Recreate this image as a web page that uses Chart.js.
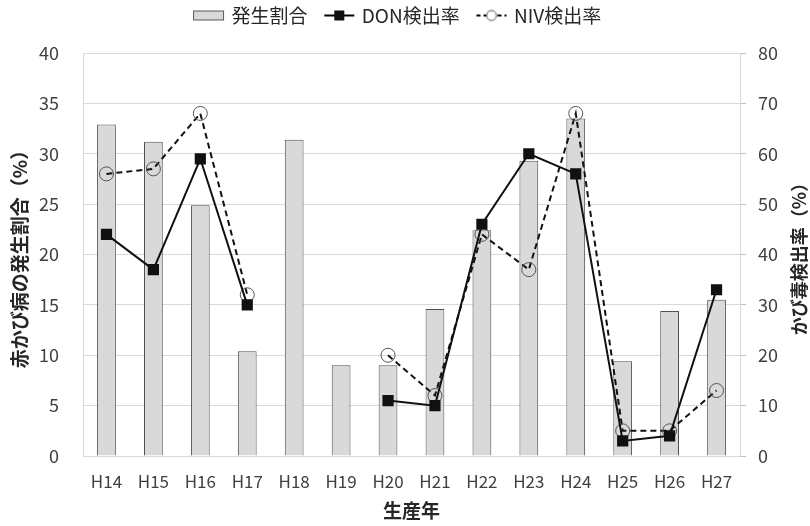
<!DOCTYPE html>
<html>
<head>
<meta charset="utf-8">
<script src="https://cdn.jsdelivr.net/npm/chart.js@4.4.1/dist/chart.umd.min.js"></script>
<style>
  html, body { margin: 0; padding: 0; background: #fff; }
  #wrap { width: 810px; height: 526px; }
</style>
</head>
<body>
<div id="wrap"><canvas id="moldChart"></canvas></div>
<script>
// data
var years = ['H14','H15','H16','H17','H18','H19','H20','H21','H22','H23','H24','H25','H26','H27'];
var occurrence = [32.9, 31.2, 24.9, 10.4, 31.4, 9.0, 9.0, 14.6, 22.4, 29.3, 33.5, 9.4, 14.4, 15.5];
var donRate = [44, 37, 59, 30, null, null, 11, 10, 46, 60, 56, 3, 4, 33];
var nivRate = [56, 57, 68, 32, null, null, 20, 12, 44, 37, 68, 5, 5, 13];
var leftTicks = [0, 5, 10, 15, 20, 25, 30, 35, 40];
var rightTicks = [0, 10, 20, 30, 40, 50, 60, 70, 80];

var font = '"Noto Sans CJK JP", "Noto Sans", sans-serif';
var textColor = '#404040';

// little legend icons (line + marker)
function legendIcon(kind) {
    var c = document.createElement('canvas');
    c.width = 34; c.height = 14;
    var g = c.getContext('2d');
    if (kind === 'bar') {
        g.fillStyle = '#d9d9d9';
        g.strokeStyle = '#595959';
        g.lineWidth = 1;
        g.fillRect(1.5, 2.5, 30, 9);
        g.strokeRect(1.5, 2.5, 30, 9);
        return c;
    }
    g.strokeStyle = '#000';
    g.lineWidth = 2;
    if (kind === 'niv') g.setLineDash([4, 3]);
    g.beginPath(); g.moveTo(2, 7); g.lineTo(32, 7); g.stroke();
    g.setLineDash([]);
    if (kind === 'don') {
        g.fillStyle = '#111';
        g.fillRect(12, 2, 10, 10);
    } else {
        g.fillStyle = '#fff';
        g.strokeStyle = '#555';
        g.lineWidth = 1;
        g.beginPath(); g.arc(17, 7, 5, 0, Math.PI * 2); g.fill(); g.stroke();
    }
    return c;
}

// right axis title drawn reading bottom-to-top like the original
var rightTitle = {
    id: 'rightTitle',
    afterDraw: function(chart) {
        var area = chart.chartArea;
        var ctx = chart.ctx;
        ctx.save();
        ctx.translate(799, (area.top + area.bottom) / 2);
        ctx.rotate(-Math.PI / 2);
        ctx.font = 'bold 18px ' + font;
        ctx.fillStyle = '#262626';
        ctx.textAlign = 'center';
        ctx.textBaseline = 'middle';
        ctx.fillText('かび毒検出率（%）', 0, 0);
        ctx.restore();
    }
};

// legend box taller so the plot starts lower
var legendSpace = {
    id: 'legendSpace',
    beforeInit: function(chart) {
        var fit = chart.legend.fit;
        chart.legend.fit = function() {
            fit.bind(chart.legend)();
            this.height += 18;
        };
    }
};

var ctx = document.getElementById('moldChart');
new Chart(ctx, {
    data: {
        labels: years,
        datasets: [{
            type: 'bar',
            label: '発生割合',
            data: occurrence,
            yAxisID: 'y',
            backgroundColor: '#d9d9d9',
            borderColor: '#505050',
            borderWidth: 1,
            barPercentage: 0.4,
            categoryPercentage: 1,
            order: 3
        }, {
            type: 'line',
            label: 'DON検出率',
            data: donRate,
            yAxisID: 'y1',
            borderColor: '#111',
            borderWidth: 2,
            pointStyle: 'rect',
            pointRadius: 6.5,
            pointBackgroundColor: '#111',
            pointBorderColor: '#111',
            spanGaps: false,
            order: 1
        }, {
            type: 'line',
            label: 'NIV検出率',
            data: nivRate,
            yAxisID: 'y1',
            borderColor: '#111',
            borderWidth: 2,
            borderDash: [6, 4],
            pointStyle: 'circle',
            pointRadius: 7,
            pointBorderWidth: 1,
            pointBackgroundColor: 'rgba(255,255,255,0)',
            pointBorderColor: '#555',
            spanGaps: false,
            order: 2
        }]
    },
    options: {
        responsive: true,
        maintainAspectRatio: false,
        animation: false,
        layout: { padding: { top: 0, right: 0, left: 0, bottom: 0 } },
        plugins: {
            tooltip: { enabled: false },
            legend: {
                position: 'top',
                labels: {
                    usePointStyle: true,
                    pointStyleWidth: 26,
                    font: { family: font, size: 19 },
                    color: '#262626',
                    padding: 6,
                    generateLabels: function(chart) {
                        var icons = [legendIcon('bar'), legendIcon('don'), legendIcon('niv')];
                        return chart.data.datasets.map(function(ds, i) {
                            return {
                                text: ds.label + '   ',
                                pointStyle: icons[i],
                                datasetIndex: i,
                                fontColor: '#262626',
                                hidden: false
                            };
                        });
                    }
                }
            }
        },
        scales: {
            x: {
                grid: { display: false, drawTicks: false },
                border: { color: '#d9d9d9' },
                ticks: { font: { family: font, size: 17 }, color: textColor, padding: 15 },
                title: {
                    display: true,
                    text: '生産年',
                    font: { family: font, size: 19, weight: 'bold' },
                    color: '#262626',
                    padding: { top: 0 }
                },
                afterFit: function(s) { s.height = 70; }
            },
            y: {
                position: 'left',
                min: 0, max: 40,
                afterBuildTicks: function(s) { s.ticks = leftTicks.map(function(v) { return { value: v }; }); },
                grid: { color: '#d9d9d9', drawTicks: false },
                border: { color: '#d9d9d9' },
                ticks: { font: { family: font, size: 18 }, color: textColor, padding: 24 },
                title: {
                    display: true,
                    text: '赤かび病の発生割合（%）',
                    font: { family: font, size: 19, weight: 'bold' },
                    color: '#262626',
                    padding: { top: 8, bottom: 0 }
                },
                afterFit: function(s) { s.width = 83; }
            },
            y1: {
                position: 'right',
                min: 0, max: 80,
                afterBuildTicks: function(s) { s.ticks = rightTicks.map(function(v) { return { value: v }; }); },
                grid: { drawOnChartArea: false, color: '#bfbfbf', tickLength: 6 },
                border: { color: '#d9d9d9' },
                ticks: { font: { family: font, size: 18 }, color: textColor, padding: 12 },
                afterFit: function(s) { s.width = 70; }
            }
        }
    },
    plugins: [rightTitle, legendSpace]
});
</script>
</body>
</html>
